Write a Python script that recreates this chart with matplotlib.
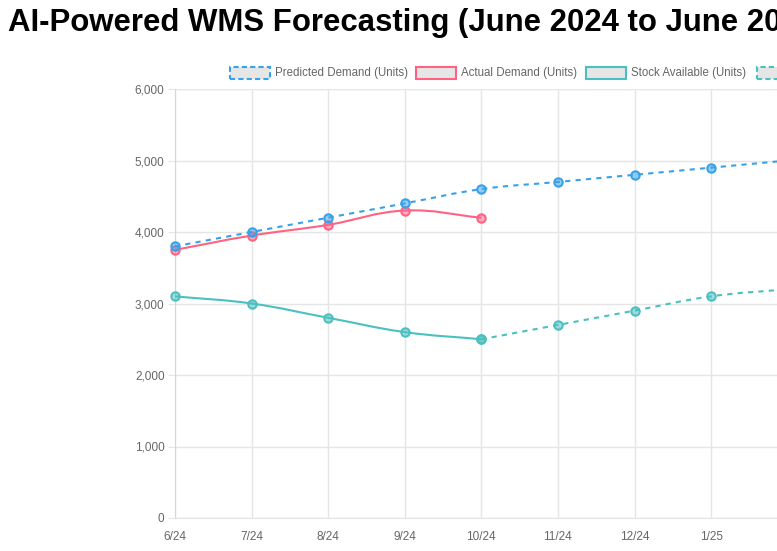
import numpy as np
import matplotlib
matplotlib.use('Agg')
import matplotlib.pyplot as plt
from matplotlib.path import Path
from matplotlib.patches import PathPatch, Rectangle
from matplotlib.ticker import FuncFormatter

plt.rcParams['font.family'] = ['Liberation Sans', 'DejaVu Sans']

months = ['6/24', '7/24', '8/24', '9/24', '10/24', '11/24', '12/24',
          '1/25', '2/25', '3/25', '4/25', '5/25', '6/25']
predicted_demand = [3800, 4000, 4200, 4400, 4600, 4700, 4800, 4900, 5000,
                    5100, 5200, 5300, 5400]
actual_demand = [3750, 3950, 4100, 4300, 4200]
stock_available = [3100, 3000, 2800, 2600, 2500]
predicted_stock = [2500, 2700, 2900, 3100, 3200, 3300, 3400, 3500, 3600]
predicted_stock_start = 4  # starts at 10/24

labels = ['Predicted Demand (Units)', 'Actual Demand (Units)',
          'Stock Available (Units)', 'Predicted Stock (Units)']

BLUE = '#36A2EB'
PINK = '#FF6384'
TEAL = '#4BC0C0'
GRID = '#e5e5e5'
TXT = '#666666'
W, H = 777, 551

fig = plt.figure(figsize=(W / 100, H / 100), dpi=100)
# chart area is wider than the visible canvas (cropped at the right)
ax = fig.add_axes([175 / W, 33 / H, 919 / W, 429 / H])
ax.set_xlim(0, len(months) - 1)
ax.set_ylim(0, 6000)


def smooth_path(xs, ys, t=0.4):
    """bezier path like chart.js tension smoothing, built in display space"""
    pts = ax.transData.transform(np.column_stack([xs, ys]))
    n = len(pts)
    cps = []
    for i in range(n):
        p0 = pts[max(i - 1, 0)]
        p1 = pts[i]
        p2 = pts[min(i + 1, n - 1)]
        d01 = np.hypot(*(p1 - p0))
        d12 = np.hypot(*(p2 - p1))
        s = d01 + d12
        s01 = d01 / s if s else 0
        s12 = d12 / s if s else 0
        cps.append((p1 - t * s01 * (p2 - p0), p1 + t * s12 * (p2 - p0)))
    verts = [pts[0]]
    codes = [Path.MOVETO]
    for i in range(1, n):
        verts += [cps[i - 1][1], cps[i][0], pts[i]]
        codes += [Path.CURVE4] * 3
    verts = ax.transData.inverted().transform(np.array(verts))
    return Path(verts, codes)


DASH = (0, (2.5, 2.5))
series = [
    (np.arange(len(predicted_demand)), predicted_demand, BLUE, DASH, 6),
    (np.arange(len(actual_demand)), actual_demand, PINK, '-', 5),
    (np.arange(len(stock_available)), stock_available, TEAL, '-', 4),
    (np.arange(len(predicted_stock)) + predicted_stock_start, predicted_stock,
     TEAL, DASH, 3),
]
for xs, ys, col, ls, z in series:
    ax.add_patch(PathPatch(smooth_path(xs, ys), fill=False, edgecolor=col,
                           lw=1.5, linestyle=ls, zorder=z, clip_on=False))
    ax.plot(xs, ys, 'o', ms=6, mfc=matplotlib.colors.to_rgba(col, 0.5),
            mec=col, mew=1.5, zorder=z + 0.5, clip_on=False)

ax.set_yticks(range(0, 6001, 1000))
ax.yaxis.set_major_formatter(FuncFormatter(lambda v, p: f'{int(v):,}'))
ax.set_xticks(range(len(months)))
ax.set_xticklabels(months)
ax.tick_params(axis='y', length=5, color=GRID, labelcolor=TXT, labelsize=8.5,
               pad=2.5)
ax.tick_params(axis='x', length=0, labelcolor=TXT, labelsize=8.5, pad=9)
ax.grid(True, color=GRID, lw=1)
ax.set_axisbelow(True)
for side in ['top', 'right']:
    ax.spines[side].set_visible(False)
ax.spines['left'].set_color('#d6d6d6')
ax.spines['bottom'].set_color(GRID)

# title (chart.js centers it on the full canvas, so it is cut on the right)
fig.text(8 / W, 1 - 31 / H, 'AI-Powered WMS Forecasting (June 2024 to June 2025)',
         fontsize=22.4, fontweight='bold', color='black', ha='left',
         va='baseline')

# legend, chart.js style boxes
box_x = [230, 416, 586, 757]
box_col = [BLUE, PINK, TEAL, TEAL]
box_ls = ['--', '-', '-', '--']
for bx, col, ls, lab in zip(box_x, box_col, box_ls, labels):
    fig.add_artist(Rectangle((bx / W, 1 - 79 / H), 40 / W, 12 / H,
                             transform=fig.transFigure, facecolor='#e6e6e6',
                             edgecolor=col, lw=1.5,
                             linestyle=(0, (2.5, 1.5)) if ls == '--' else '-'))
    fig.text((bx + 45) / W, 1 - 73 / H, lab, fontsize=8.3, color=TXT,
             ha='left', va='center')

fig.savefig('out.png', dpi=100)
